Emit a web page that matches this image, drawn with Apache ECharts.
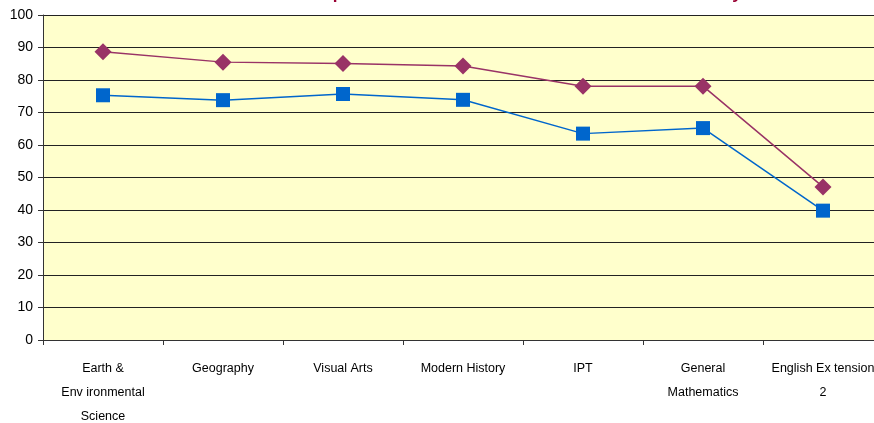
<!DOCTYPE html>
<html><head><meta charset="utf-8">
<script src="https://cdn.jsdelivr.net/npm/echarts@6/dist/echarts.min.js"></script>
<style>html,body{margin:0;padding:0;background:#fff}#c{width:874px;height:423px}</style>
</head><body><div id="c"></div>
<script>
const categories = ["Earth &\nEnv ironmental\nScience", "Geography", "Visual Arts", "Modern History", "IPT", "General\nMathematics", "English Ex tension\n2"];
const schoolMean = [88.7, 85.5, 85.1, 84.3, 78.1, 78.1, 47.1];
const stateMean = [75.3, 73.8, 75.7, 73.9, 63.5, 65.2, 39.8];
const yTicks = { min: 0, max: 100, interval: 10 };
const titleText = "Comparison of School and State Mean Marks Summary";

const chart = echarts.init(document.getElementById('c'), null, { renderer: 'canvas' });
chart.setOption({
  animation: false,
  backgroundColor: '#ffffff',
  title: {
    text: titleText, left: 290, top: -19,
    textStyle: { color: '#990033', fontFamily: 'Arial, Liberation Sans', fontSize: 17, fontWeight: 'bold' }
  },
  grid: { left: 43, top: 15, width: 840, bottom: 83, outerBoundsMode: 'none', containLabel: false,
          show: true, backgroundColor: '#FFFFCC', borderWidth: 0 },
  xAxis: {
    type: 'category', data: categories, boundaryGap: true,
    axisLine: { lineStyle: { color: '#333', width: 1 } },
    axisTick: { show: true, length: 5, lineStyle: { color: '#333' } },
    axisLabel: { color: '#000', fontFamily: 'Arial, Liberation Sans', fontSize: 12.5, lineHeight: 24, margin: 17, interval: 0 },
    splitLine: { show: false }
  },
  yAxis: {
    type: 'value', min: yTicks.min, max: yTicks.max, interval: yTicks.interval,
    axisLine: { show: true, lineStyle: { color: '#333', width: 1 } },
    axisTick: { show: true, length: 5, lineStyle: { color: '#333' } },
    axisLabel: { color: '#000', fontFamily: 'Arial, Liberation Sans', fontSize: 14, margin: 10 },
    splitLine: { show: true, lineStyle: { color: '#222', width: 1 } }
  },
  series: [
    { name: 'School', type: 'line', data: schoolMean, symbol: 'diamond', symbolSize: 17,
      itemStyle: { color: '#993366' }, lineStyle: { color: '#993366', width: 1.5 } },
    { name: 'State', type: 'line', data: stateMean, symbol: 'rect', symbolSize: 14,
      itemStyle: { color: '#0066CC' }, lineStyle: { color: '#0066CC', width: 1.5 } }
  ]
});
</script></body></html>
